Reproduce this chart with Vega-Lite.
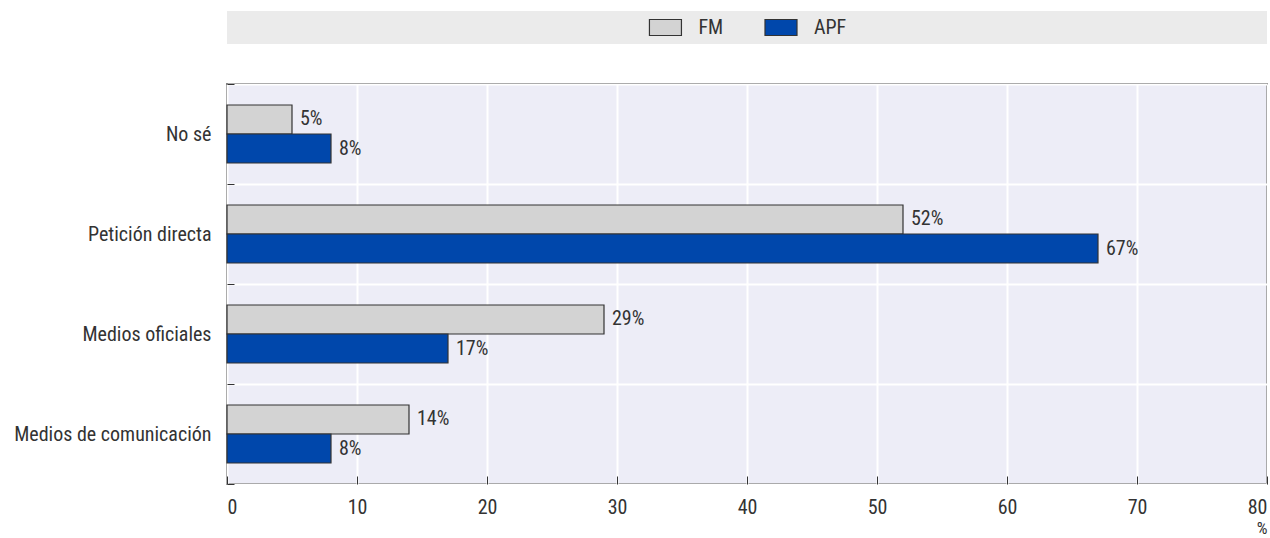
{
  "$schema": "https://vega.github.io/schema/vega-lite/v6.json",
  "padding": {"top": 11, "left": 12, "right": 0, "bottom": 0},
  "spacing": 29,
  "config": {
    "font": "'Roboto Condensed', 'DejaVu Sans Condensed', Roboto",
    "axis": {"labelFont": "'Roboto Condensed', 'DejaVu Sans Condensed', Roboto", "labelFontSize": 20, "labelColor": "#333333", "labelLimit": 320, "titleFont": "'Roboto Condensed', 'DejaVu Sans Condensed', Roboto", "titleFontSize": 17, "titleFontWeight": "normal", "titleColor": "#333333"},
    "text": {"font": "'Roboto Condensed', 'DejaVu Sans Condensed', Roboto"}
  },
  "datasets": {
    "series": [
      {"series": "FM"},
      {"series": "APF"}
    ],
    "shares": [
      {"cat": "No sé", "series": "FM", "value": 5},
      {"cat": "No sé", "series": "APF", "value": 8},
      {"cat": "Petición directa", "series": "FM", "value": 52},
      {"cat": "Petición directa", "series": "APF", "value": 67},
      {"cat": "Medios oficiales", "series": "FM", "value": 29},
      {"cat": "Medios oficiales", "series": "APF", "value": 17},
      {"cat": "Medios de comunicación", "series": "FM", "value": 14},
      {"cat": "Medios de comunicación", "series": "APF", "value": 8}
    ]
  },
  "vconcat": [
    {
      "width": 1040,
      "height": 33,
      "view": {"fill": "#EBEBEB", "stroke": null},
      "data": {"name": "series"},
      "encoding": {
        "x": {"datum": "legend", "type": "nominal",
              "scale": {"type": "band", "paddingInner": 0, "paddingOuter": 1, "align": 0.4657}, "axis": null},
        "xOffset": {"field": "series", "type": "nominal", "sort": ["FM", "APF"],
                    "scale": {"type": "point", "padding": 1}}
      },
      "layer": [
        {
          "mark": {"type": "point", "shape": "M-1,-0.5H1V0.5H-1Z", "size": 1024, "filled": true, "stroke": "#333333", "strokeWidth": 1.2, "opacity": 1},
          "encoding": {
            "color": {"field": "series", "type": "nominal", "scale": {"domain": ["FM", "APF"], "range": ["#D3D3D3", "#0047AB"]}, "legend": null}
          }
        },
        {
          "mark": {"type": "text", "align": "left", "baseline": "middle", "dx": 33, "fontSize": 20, "color": "#333333"},
          "encoding": {"text": {"field": "series"}}
        }
      ]
    },
    {
      "width": 1040,
      "height": 400,
      "view": {"fill": "#EDEDF7", "stroke": "#222222", "strokeWidth": 1.5},
      "data": {"name": "shares"},
      "transform": [{"calculate": "datum.value + '%'", "as": "label"}],
      "encoding": {
        "y": {"field": "cat", "type": "nominal", "title": null,
              "sort": ["No sé", "Petición directa", "Medios oficiales", "Medios de comunicación"],
              "scale": {"paddingInner": 0, "paddingOuter": 0},
              "axis": {"tickBand": "extent", "grid": true, "gridColor": "#FFFFFF", "gridWidth": 2, "domain": false,
                       "tickSize": -7, "tickColor": "#333333", "labelPadding": 23}},
        "yOffset": {"field": "series", "type": "nominal", "sort": ["FM", "APF"], "scale": {"paddingInner": 0, "paddingOuter": 0.724}},
        "x": {"field": "value", "type": "quantitative", "title": "%",
              "scale": {"domain": [0, 80], "nice": false},
              "axis": {"values": [0, 10, 20, 30, 40, 50, 60, 70, 80], "grid": true, "gridColor": "#FFFFFF", "gridWidth": 2, "domain": false,
                       "tickSize": -8, "tickColor": "#333333", "labelPadding": 21, "titleAnchor": "end", "titlePadding": 3}}
      },
      "layer": [
        {
          "mark": {"type": "bar", "stroke": "#333333", "strokeWidth": 1.2},
          "encoding": {
            "color": {"field": "series", "type": "nominal", "scale": {"domain": ["FM", "APF"], "range": ["#D3D3D3", "#0047AB"]}, "legend": null}
          }
        },
        {
          "mark": {"type": "text", "align": "left", "baseline": "middle", "dx": 8, "fontSize": 20, "color": "#333333"},
          "encoding": {"text": {"field": "label", "type": "nominal"}, "detail": {"field": "series"}}
        }
      ]
    }
  ]
}
